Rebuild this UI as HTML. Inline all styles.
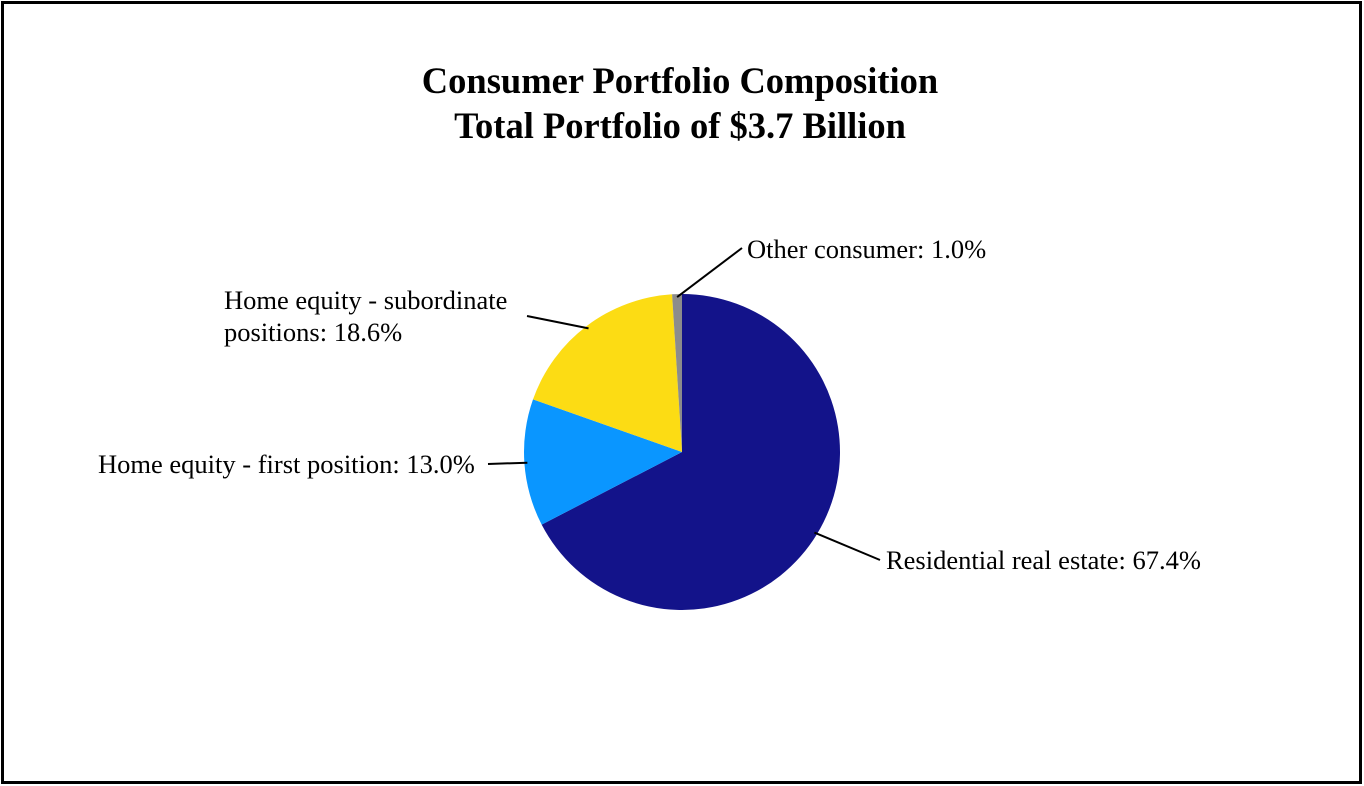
<!DOCTYPE html>
<html><head><meta charset="utf-8"><style>
html,body{margin:0;padding:0;background:#fff;}
svg{display:block;font-family:"Liberation Serif",serif;}
</style></head><body>
<svg width="1364" height="786">
<rect x="2.5" y="2.5" width="1358" height="780" fill="#fff" stroke="#000" stroke-width="3"/>
<text x="680" y="93" text-anchor="middle" font-size="36.5" font-weight="bold">Consumer Portfolio Composition</text>
<text x="680" y="138" text-anchor="middle" font-size="36.5" font-weight="bold">Total Portfolio of $3.7 Billion</text>
<g id="pie"></g>
<g id="labels"></g>
</svg>
<script>
const categories = ["Residential real estate", "Home equity - first position", "Home equity - subordinate positions", "Other consumer"];
const values = [67.4, 13.0, 18.6, 1.0];
const colors = ["#13138a", "#0a96ff", "#fcdc14", "#8c8c8c"];
const cx = 682, cy = 452, r = 158;
const NS = "http://www.w3.org/2000/svg";
const pie = document.getElementById("pie");
const total = values.reduce((a,b)=>a+b,0);
function pt(a, rr){ return [cx + rr*Math.sin(a), cy - rr*Math.cos(a)]; }
let acc = 0;
const mids = [];
values.forEach((v,i)=>{
  const a0 = acc/total*2*Math.PI, a1 = (acc+v)/total*2*Math.PI;
  acc += v;
  mids.push((a0+a1)/2);
  const p0 = pt(a0,r), p1 = pt(a1,r);
  const large = (a1-a0) > Math.PI ? 1 : 0;
  const path = document.createElementNS(NS,"path");
  path.setAttribute("d",`M${cx},${cy} L${p0[0]},${p0[1]} A${r},${r} 0 ${large} 1 ${p1[0]},${p1[1]} Z`);
  path.setAttribute("fill",colors[i]);
  
  
  pie.appendChild(path);
});
const labels = document.getElementById("labels");
const layout = [
  {end:[880,560], lines:[[886,569]], anchor:"start"},
  {end:[488,464], lines:[[98,473]], anchor:"start"},
  {end:[527,316], lines:[[224,309],[224,341]], anchor:"start"},
  {end:[742,248], lines:[[747,258]], anchor:"start"}
];
categories.forEach((c,i)=>{
  const p = pt(mids[i], r-3);
  const ln = document.createElementNS(NS,"line");
  ln.setAttribute("x1",p[0]); ln.setAttribute("y1",p[1]);
  ln.setAttribute("x2",layout[i].end[0]); ln.setAttribute("y2",layout[i].end[1]);
  ln.setAttribute("stroke","#000"); ln.setAttribute("stroke-width","2");
  
  
  labels.appendChild(ln);
  const txt = c + ": " + values[i].toFixed(1) + "%";
  let parts = [txt];
  if (layout[i].lines.length === 2) { parts = ["Home equity - subordinate", "positions: " + values[i].toFixed(1) + "%"]; }
  parts.forEach((s,j)=>{
    const t = document.createElementNS(NS,"text");
    t.setAttribute("x",layout[i].lines[j][0]); t.setAttribute("y",layout[i].lines[j][1]);
    t.setAttribute("font-size","26.5");
    t.textContent = s;
    
    
    labels.appendChild(t);
  });
});
</script>
</body></html>
